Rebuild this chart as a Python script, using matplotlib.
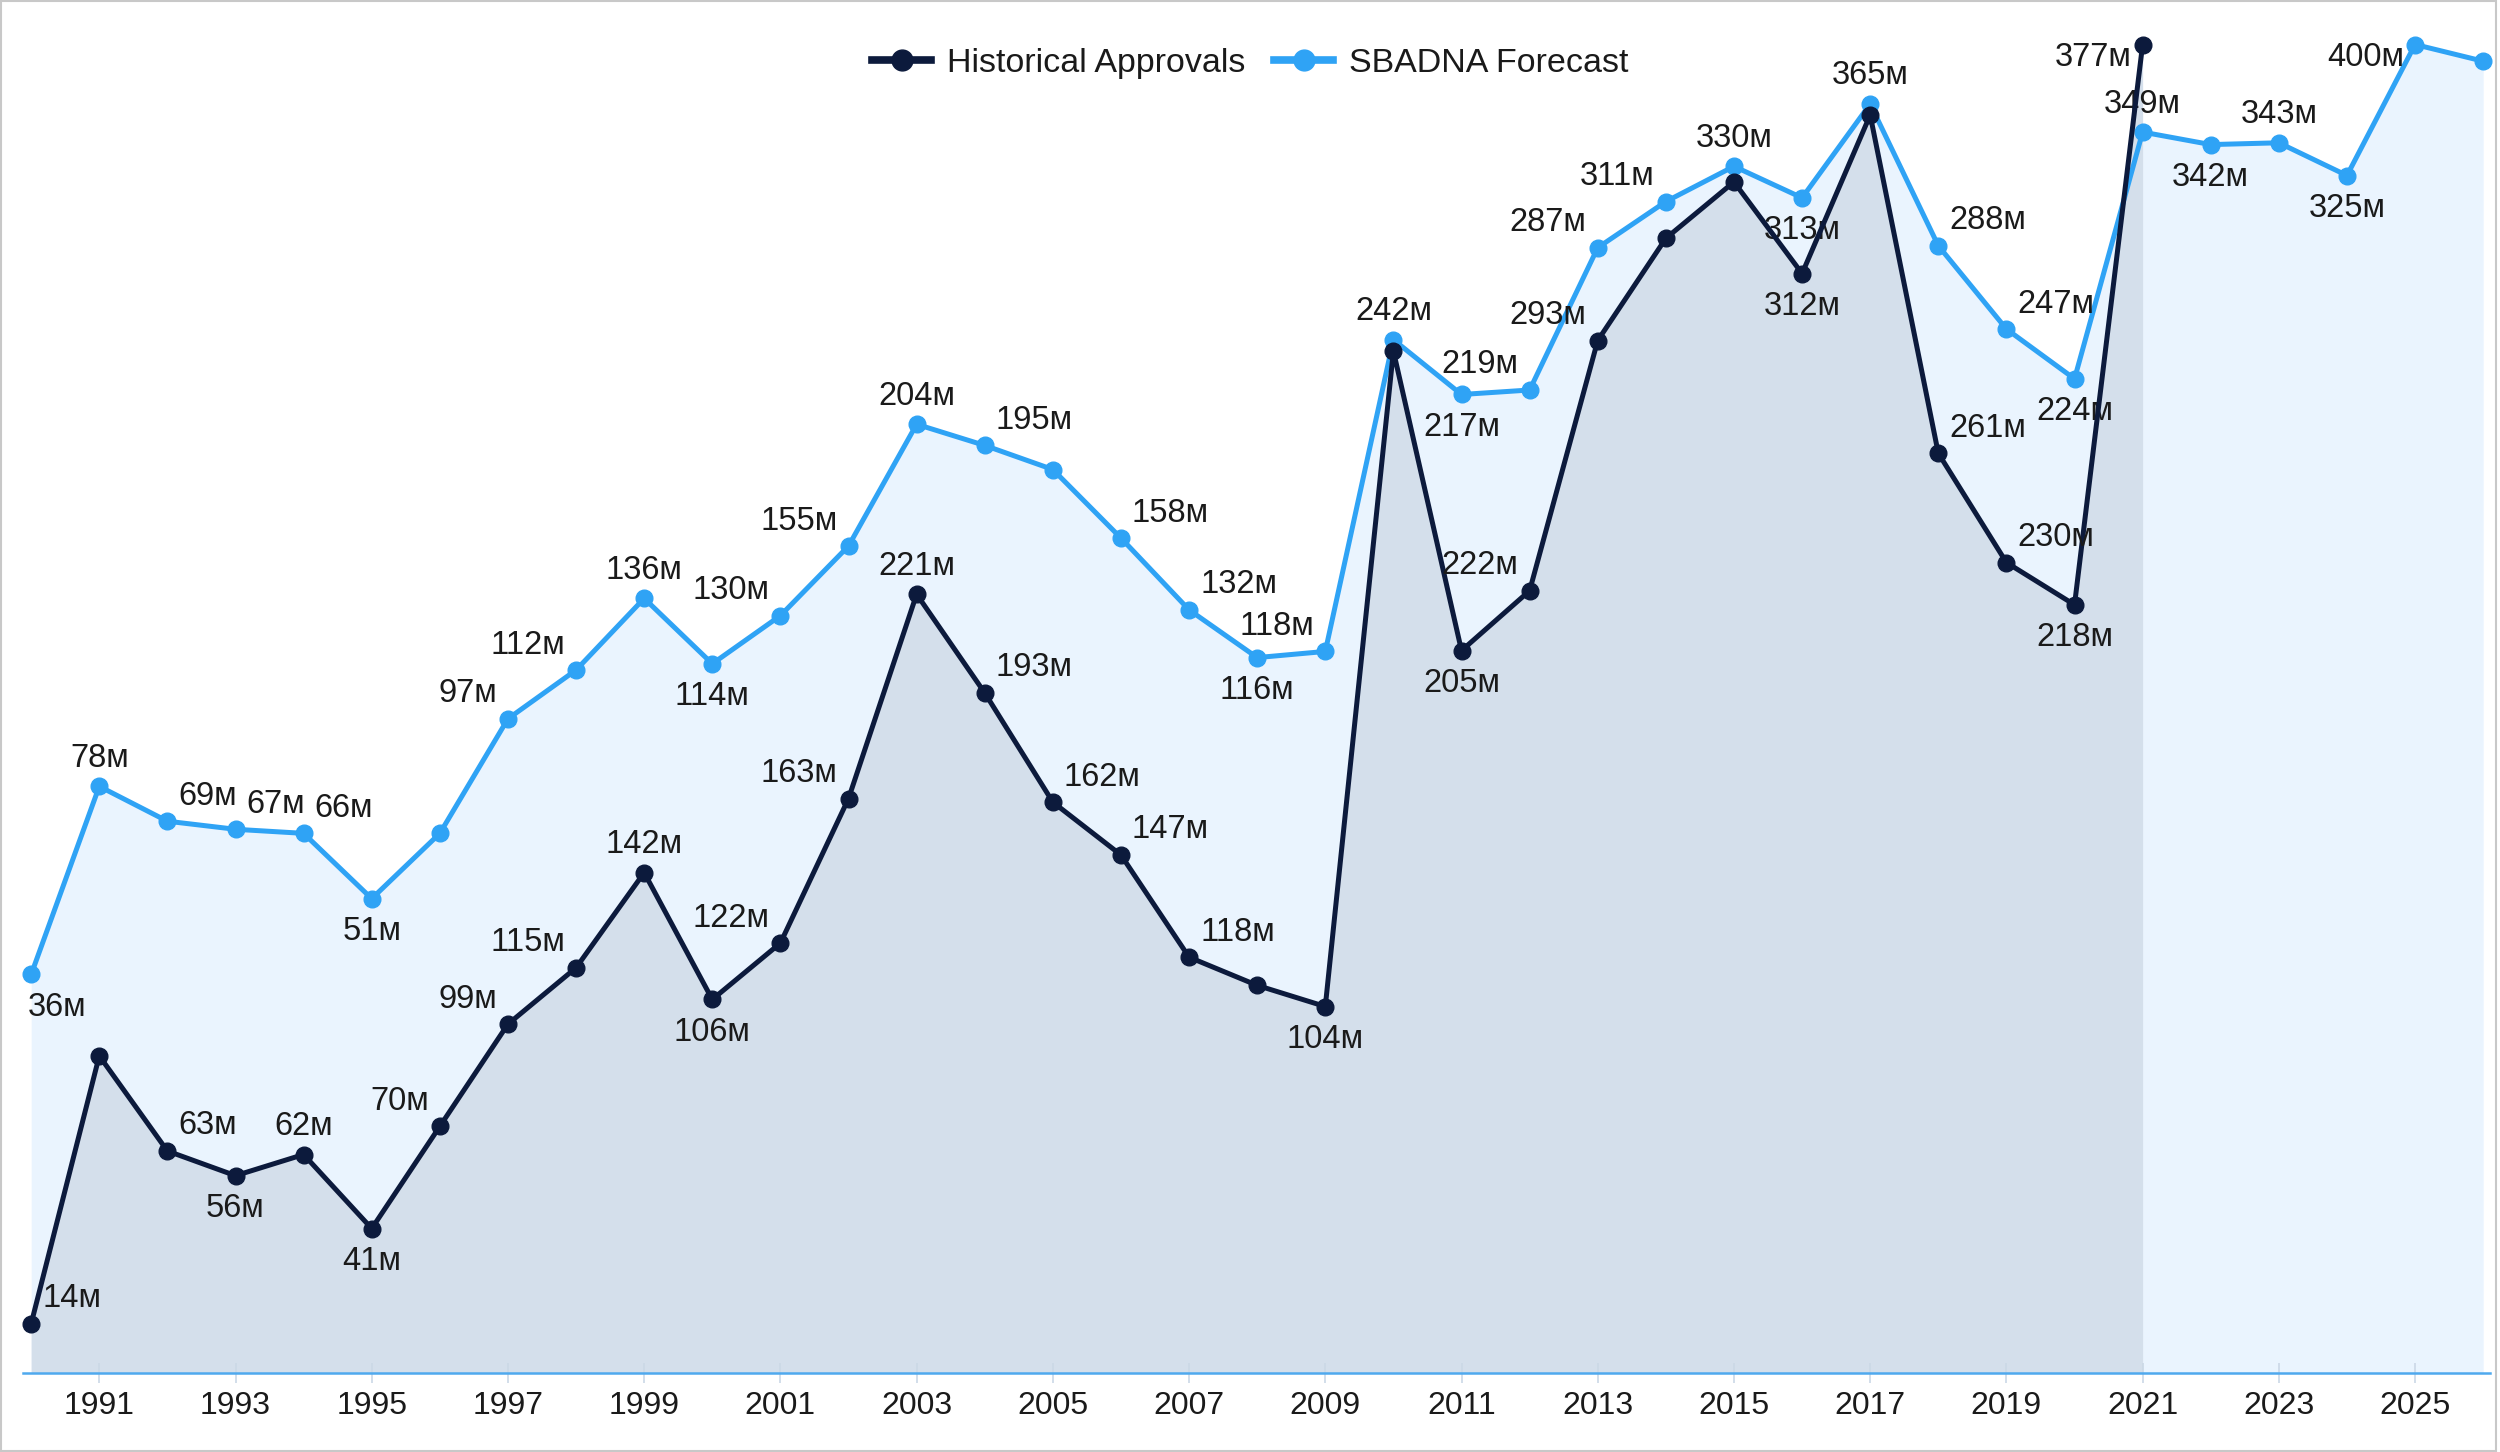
import matplotlib
matplotlib.use("Agg")
import matplotlib.pyplot as plt
from matplotlib.lines import Line2D
from matplotlib.patches import Rectangle
import numpy as np

plt.rcParams['font.family'] = ['Liberation Sans', 'DejaVu Sans']

# data (millions)
hist_years = list(range(1990, 2022))
hist_vals = [14, 90, 63, 56, 62, 41, 70, 99, 115, 142,
             106, 122, 163, 221, 193, 162, 147, 118, 110, 104,
             290, 205, 222, 293, 322, 338, 312, 357, 261, 230,
             218, 377]
fc_years = list(range(1990, 2027))
fc_vals = [36, 78, 69, 67, 66, 51, 66, 97, 112, 136,
           114, 130, 155, 204, 195, 185, 158, 132, 116, 118,
           242, 217, 219, 287, 311, 330, 313, 365, 288, 247,
           224, 349, 342, 343, 325, 400, 390]
tick_years = list(range(1991, 2027, 2))
series_names = ["Historical Approvals", "SBADNA Forecast"]

# where each value label sits (None = hidden by the chart)
hist_pos = ['ar', None, 'ar', 'b', 'a', 'b', 'al', 'al', 'al', 'a',
            'b', 'al', 'al', 'a', 'ar', 'ar', 'ar', 'ar', None, 'b',
            None, 'b', 'al', 'al', None, None, 'b', None, 'ar', 'ar',
            'b', 'l']
fc_pos = ['br', 'a', 'ar', 'ar', 'ar', 'b', None, 'al', 'al', 'a',
          'b', 'al', 'al', 'a', 'ar', None, 'ar', 'ar', 'b', 'al',
          'a', 'b', 'al', 'al', 'al', 'a', 'b', 'a', 'ar', 'ar',
          'b', 'a', 'b', 'a', 'b', 'l', None]
offsets = {'a': (0, 28, 'center'), 'b': (0, -33, 'center'),
           'ar': (11, 25, 'left'), 'al': (-11, 25, 'right'),
           'l': (-11, -13, 'right'), 'br': (-3, -33, 'left')}

NAVY = '#0c1a3c'
BLUE = '#2fa3f5'
HIST_FILL = '#d4dfeb'
FC_FILL = '#eaf4fe'
TEXT = '#1a1a1a'

W, H = 2500, 1452
fig = plt.figure(figsize=(W / 100, H / 100), dpi=100)
fig.patch.set_facecolor('white')

left, right = 23 / W, 2490 / W
bottom = (H - 1373) / H
top = (H - 44.5) / H
rect = [left, bottom, right - left, top - bottom]

sqrt_fns = (lambda v: np.sqrt(np.clip(v, 0, None)), lambda v: np.square(v))

# layer 1: forecast area (sqrt scale)
ax_ff = fig.add_axes(rect)
ax_ff.set_yscale('function', functions=sqrt_fns)
ax_ff.fill_between(fc_years, 0, fc_vals, color=FC_FILL, lw=0)
ax_ff.set_ylim(0, max(fc_vals))
# layer 2: historical area (linear)
ax_hf = ax_ff.twinx()
ax_hf.fill_between(hist_years, 0, hist_vals, color=HIST_FILL, lw=0)
ax_hf.set_ylim(0, max(hist_vals))
# layer 3: forecast line
ax_fl = ax_ff.twinx()
ax_fl.set_yscale('function', functions=sqrt_fns)
ax_fl.plot(fc_years, fc_vals, color=BLUE, lw=3.6, marker='o', ms=12,
           clip_on=False, solid_joinstyle='round')
ax_fl.set_ylim(0, max(fc_vals))
# layer 4: historical line
ax_hl = ax_ff.twinx()
ax_hl.plot(hist_years, hist_vals, color=NAVY, lw=3.6, marker='o', ms=12,
           clip_on=False, solid_joinstyle='round')
ax_hl.set_ylim(0, max(hist_vals))

for ax in (ax_ff, ax_hf, ax_fl, ax_hl):
    for s in ax.spines.values():
        s.set_visible(False)
    ax.yaxis.set_visible(False)
    ax.set_xlim(1989.88, 2026.1)
ax_ff.patch.set_visible(False)
ax_ff.xaxis.set_visible(False)

ax_hl.xaxis.set_visible(True)
ax_hl.spines['bottom'].set_visible(True)
ax_hl.spines['bottom'].set_color('#4fa9ee')
ax_hl.spines['bottom'].set_linewidth(1.8)
ax_hl.set_xticks(tick_years)
ax_hl.set_xticklabels([str(y) for y in tick_years])
ax_hl.tick_params(axis='x', direction='inout', length=14, width=1.2,
                  color='#cbd8e6', labelsize=23, labelcolor=TEXT, pad=6)


def label(ax, xs, vs, pos):
    for x, v, p in zip(xs, vs, pos):
        if p is None:
            continue
        dx, dy, ha = offsets[p]
        ax.annotate(f"{v}м", xy=(x, v), xytext=(dx, dy),
                    textcoords='offset pixels', ha=ha, va='center',
                    fontsize=23.5, color=TEXT, annotation_clip=False)


label(ax_fl, fc_years, fc_vals, fc_pos)
label(ax_hl, hist_years, hist_vals, hist_pos)

handles = [Line2D([], [], color=NAVY, lw=5.5, marker='o', ms=15),
           Line2D([], [], color=BLUE, lw=5.5, marker='o', ms=15)]
fig.legend(handles, series_names, loc='center', bbox_to_anchor=(0.5, 1 - 63.8 / H),
           ncol=2, frameon=False, fontsize=24.5, handlelength=1.75,
           handletextpad=0.45, columnspacing=0.85, labelcolor=TEXT)

# thin grey frame round the picture
fig.patches.append(Rectangle((0.0005, 0.001), 0.998, 0.998, transform=fig.transFigure,
                             fill=False, edgecolor='#c8c8c8', lw=1.5))

fig.savefig('out.png', dpi=100)
